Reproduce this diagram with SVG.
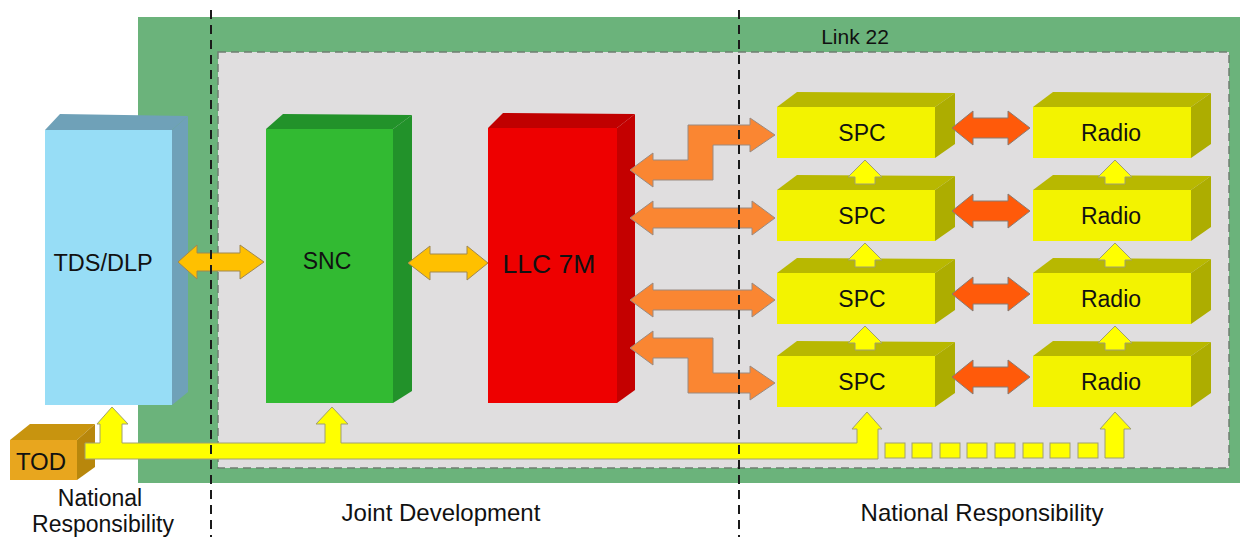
<svg xmlns="http://www.w3.org/2000/svg" width="1240" height="537" viewBox="0 0 1240 537">
<style>
text{font-family:"Liberation Sans",Arial,sans-serif;fill:#111;text-anchor:middle}
.lbl{font-size:23px}
.big{font-size:24px}
.gold{fill:#FFC000;stroke:#A08850;stroke-width:1}
.org{fill:#FA8632;stroke:#9A8A80;stroke-width:1}
.red{fill:#FF5A0A;stroke:#8A7A70;stroke-width:1}
.yel{fill:#FFFF00;stroke:#A0A070;stroke-width:1}
.spcF{fill:#F3F300}
.spcT{fill:#B8B800}
.spcS{fill:#ADAD00}
.vd{stroke:#1a1a1a;stroke-width:2;stroke-dasharray:9 6;fill:none}
</style>
<defs>
<g id="box3d">
<polygon class="spcT" points="0,0 20,-15 178,-14 158,0"/>
<polygon class="spcS" points="158,0 178,-14 178,37 158,51"/>
<rect class="spcF" x="0" y="0" width="158" height="51"/>
</g>
<polygon id="redArr" class="red" points="952,0 973,-17 973,-10 1008,-10 1008,-17 1030,0 1008,17 1008,10 973,10 973,17"/>
<polygon id="upArr" class="yel" points="0,0 17,17 10,17 10,24 -10,24 -10,17 -17,17"/>
</defs>
<rect x="138" y="17" width="1102" height="466" fill="#6BB37B"/>
<rect x="218" y="52" width="1011" height="416" fill="#E0DEDF" stroke="#6F7F72" stroke-width="1.5" stroke-dasharray="8 5"/>
<text x="855" y="44" style="font-size:21px">Link 22</text>

<g id="tds">
<polygon points="45,130 60,114 188,116 172,130" fill="#6FA1B8"/>
<polygon points="172,130 188,116 188,392 172,405" fill="#6FA1B8"/>
<rect x="45" y="130" width="127" height="275" fill="#97DDF6"/>
<text x="103" y="271" style="font-size:23.5px">TDS/DLP</text>
</g>
<g id="snc">
<polygon points="266,129 283,114 412,115 393,129" fill="#22922A"/>
<polygon points="393,129 412,115 412,391 393,403" fill="#22922A"/>
<rect x="266" y="129" width="127" height="274" fill="#32BA32"/>
<text class="lbl" x="327" y="269">SNC</text>
</g>
<g id="llc">
<polygon points="488,128 503,113 635,114 617,128" fill="#C00000"/>
<polygon points="617,128 635,114 635,390 617,403" fill="#C40000"/>
<rect x="488" y="128" width="129" height="275" fill="#EE0000"/>
<text x="549" y="273" style="font-size:26.5px">LLC 7M</text>
</g>
<g id="tod">
<polygon points="10,440 30,424 95,424 77,440" fill="#C8940F"/>
<polygon points="77,440 95,424 95,467 77,480" fill="#B8870C"/>
<rect x="10" y="440" width="67" height="40" fill="#E8A61E"/>
<text class="big" x="41" y="470">TOD</text>
</g>

<g id="spc1"><use href="#box3d" x="777" y="107"/><text class="lbl" x="862" y="141">SPC</text></g>
<g id="spc2"><use href="#box3d" x="777" y="190"/><text class="lbl" x="862" y="224">SPC</text></g>
<g id="spc3"><use href="#box3d" x="777" y="273"/><text class="lbl" x="862" y="307">SPC</text></g>
<g id="spc4"><use href="#box3d" x="777" y="356"/><text class="lbl" x="862" y="390">SPC</text></g>
<g id="radio1"><use href="#box3d" x="1033" y="107"/><text class="lbl" x="1111" y="141">Radio</text></g>
<g id="radio2"><use href="#box3d" x="1033" y="190"/><text class="lbl" x="1111" y="224">Radio</text></g>
<g id="radio3"><use href="#box3d" x="1033" y="273"/><text class="lbl" x="1111" y="307">Radio</text></g>
<g id="radio4"><use href="#box3d" x="1033" y="356"/><text class="lbl" x="1111" y="390">Radio</text></g>

<g id="connectors">
<polygon class="gold" points="178,262 197,245 197,253 240,253 240,245 264,262 240,279 240,271 197,271 197,279"/>
<polygon class="gold" points="408,263 430,246 430,254 467,254 467,246 488,263 467,280 467,272 430,272 430,280"/>
<polygon class="org" points="630,170 653,153 653,160 688,160 688,125 750,125 750,118 775,135 750,152 750,145 713,145 713,180 653,180 653,187"/>
<polygon class="org" points="630,218 653,201 653,208 752,208 752,201 775,218 752,235 752,228 653,228 653,235"/>
<polygon class="org" points="630,300 653,283 653,290 752,290 752,283 775,300 752,317 752,310 653,310 653,317"/>
<polygon class="org" points="630,348 653,331 653,338 713,338 713,373 750,373 750,366 775,383 750,400 750,393 688,393 688,358 653,358 653,365"/>
<use href="#redArr" y="128"/>
<use href="#redArr" y="211"/>
<use href="#redArr" y="294"/>
<use href="#redArr" y="377"/>
<use href="#upArr" x="865" y="160"/>
<use href="#upArr" x="865" y="243"/>
<use href="#upArr" x="865" y="326"/>
<use href="#upArr" x="1115" y="160"/>
<use href="#upArr" x="1115" y="243"/>
<use href="#upArr" x="1115" y="326"/>
<polygon class="yel" points="85,443 100,443 100,424 97,424 112,407 128,424 122,424 122,443 325,443 325,424 316,424 332,407 348,424 341,424 341,443 857,443 857,429 852,429 867,412 882,429 878,429 878,459 85,459"/>
<g class="yel">
<rect x="885" y="443" width="20" height="15"/>
<rect x="912" y="443" width="20" height="15"/>
<rect x="940" y="443" width="20" height="15"/>
<rect x="967" y="443" width="20" height="15"/>
<rect x="995" y="443" width="20" height="15"/>
<rect x="1023" y="443" width="20" height="15"/>
<rect x="1050" y="443" width="20" height="15"/>
<rect x="1078" y="443" width="20" height="15"/>
</g>
<polygon class="yel" points="1105,458 1105,429 1100,429 1115,412 1131,429 1124,429 1124,458"/>
</g>

<line class="vd" x1="211" y1="10" x2="211" y2="537"/>
<line class="vd" x1="739" y1="10" x2="739" y2="537"/>

<text class="lbl" x="100" y="506">National</text>
<text class="lbl" x="103" y="532">Responsibility</text>
<text class="big" x="441" y="521">Joint Development</text>
<text class="big" x="982" y="521">National Responsibility</text>
</svg>
